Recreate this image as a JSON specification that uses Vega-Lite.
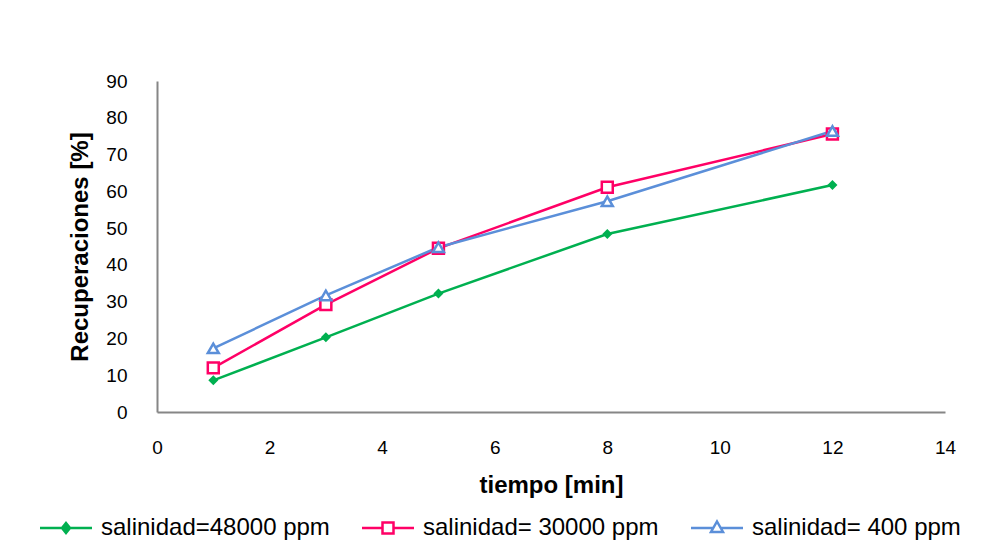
{
  "$schema": "https://vega.github.io/schema/vega-lite/v6.json",
  "width": 788,
  "height": 331,
  "autosize": {"type": "none"},
  "padding": {"left": 157, "top": 81, "right": 49, "bottom": 148},
  "background": "white",
  "config": {
    "view": {"stroke": null},
    "font": "Liberation Sans",
    "axis": {
      "grid": false,
      "ticks": false,
      "labelFlush": false,
      "domainColor": "#868686",
      "domainWidth": 2,
      "labelFont": "Liberation Sans Narrow, Liberation Sans",
      "labelFontSize": 19,
      "labelColor": "#000000",
      "titleFont": "Liberation Sans",
      "titleFontSize": 24,
      "titleFontWeight": "bold",
      "titleColor": "#000000"
    }
  },
  "data": {
    "values": [
      {"t": 1, "r": 8.6, "serie": "salinidad=48000 ppm"},
      {"t": 3, "r": 20.3, "serie": "salinidad=48000 ppm"},
      {"t": 5, "r": 32.2, "serie": "salinidad=48000 ppm"},
      {"t": 8, "r": 48.4, "serie": "salinidad=48000 ppm"},
      {"t": 12, "r": 61.7, "serie": "salinidad=48000 ppm"},
      {"t": 1, "r": 12.0, "serie": "salinidad= 30000 ppm"},
      {"t": 3, "r": 29.2, "serie": "salinidad= 30000 ppm"},
      {"t": 5, "r": 44.5, "serie": "salinidad= 30000 ppm"},
      {"t": 8, "r": 61.1, "serie": "salinidad= 30000 ppm"},
      {"t": 12, "r": 75.6, "serie": "salinidad= 30000 ppm"},
      {"t": 1, "r": 17.3, "serie": "salinidad= 400 ppm"},
      {"t": 3, "r": 31.7, "serie": "salinidad= 400 ppm"},
      {"t": 5, "r": 44.8, "serie": "salinidad= 400 ppm"},
      {"t": 8, "r": 57.3, "serie": "salinidad= 400 ppm"},
      {"t": 12, "r": 76.4, "serie": "salinidad= 400 ppm"}
    ]
  },
  "encoding": {
    "x": {
      "field": "t",
      "type": "quantitative",
      "scale": {"domain": [0, 14], "nice": false},
      "axis": {"values": [0, 2, 4, 6, 8, 10, 12, 14], "title": "tiempo [min]", "labelPadding": 26, "titlePadding": 16}
    },
    "y": {
      "field": "r",
      "type": "quantitative",
      "scale": {"domain": [0, 90], "nice": false},
      "axis": {"values": [0, 10, 20, 30, 40, 50, 60, 70, 80, 90], "title": "Recuperaciones [%]", "labelPadding": 30, "titlePadding": 13}
    }
  },
  "layer": [
    {
      "mark": {"type": "line", "strokeWidth": 2.5},
      "encoding": {
        "color": {
          "field": "serie",
          "type": "nominal",
          "scale": {"domain": ["salinidad=48000 ppm", "salinidad= 30000 ppm", "salinidad= 400 ppm"], "range": ["#00b050", "#ff0066", "#5b8fd9"]},
          "legend": {
            "orient": "none",
            "legendX": -103,
            "legendY": 435,
            "direction": "horizontal",
            "columns": 3,
            "columnPadding": 27,
            "padding": 0,
            "title": null,
            "symbolSize": 400,
            "symbolStrokeWidth": 2.5,
            "labelOffset": 23,
            "labelFont": "Liberation Sans",
            "labelFontSize": 24,
            "labelColor": "#000000",
            "labelLimit": 400
          }
        }
      }
    },
    {
      "transform": [{"filter": "datum.serie === 'salinidad=48000 ppm'"}],
      "mark": {"type": "point", "shape": "diamond", "filled": true, "size": 100, "color": "#00b050", "opacity": 1}
    },
    {
      "transform": [{"filter": "datum.serie === 'salinidad= 30000 ppm'"}],
      "mark": {"type": "point", "shape": "square", "filled": true, "fill": "white", "stroke": "#ff0066", "strokeWidth": 2.5, "size": 120, "opacity": 1}
    },
    {
      "transform": [{"filter": "datum.serie === 'salinidad= 400 ppm'"}],
      "mark": {"type": "point", "shape": "triangle-up", "filled": true, "fill": "white", "stroke": "#5b8fd9", "strokeWidth": 2.5, "size": 120, "opacity": 1}
    },
    {
      "transform": [{"filter": "datum.t < 0"}],
      "mark": {"type": "point", "opacity": 1, "strokeWidth": 2.5, "size": 400},
      "encoding": {
        "fill": {
          "field": "serie",
          "type": "nominal",
          "title": null,
          "scale": {"domain": ["salinidad=48000 ppm", "salinidad= 30000 ppm", "salinidad= 400 ppm"], "range": ["#00b050", "#ffffff", "#ffffff"]}
        },
        "shape": {
          "field": "serie",
          "type": "nominal",
          "title": null,
          "scale": {
            "domain": ["salinidad=48000 ppm", "salinidad= 30000 ppm", "salinidad= 400 ppm"],
            "range": [
              "M-2.6,0H2.6M0,-0.5L0.4,0L0,0.5L-0.4,0Z",
              "M-2.6,0H-0.55M0.55,0H2.6M-0.55,-0.55H0.55V0.55H-0.55Z",
              "M-2.6,0H-0.4M0.4,0H2.6M0,-0.65L0.6,0.4H-0.6Z"
            ]
          }
        }
      }
    }
  ]
}
